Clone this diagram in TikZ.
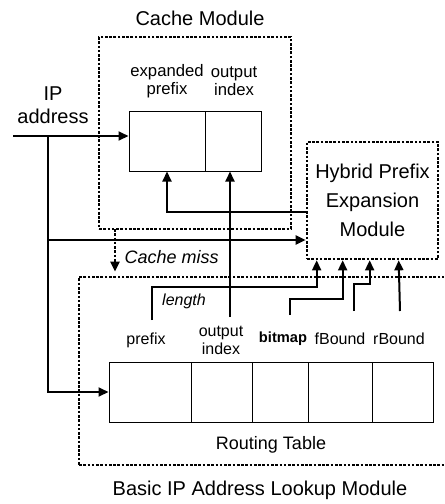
\documentclass[tikz,border=0pt]{standalone}
\usepackage{fontspec}
\setmainfont{Liberation Sans}
\usetikzlibrary{arrows.meta}

\begin{document}
\begin{tikzpicture}[x=0.75pt, y=-0.75pt,
  modbox/.style={draw, line width=2pt, dash pattern=on 2pt off 1.2pt, inner sep=0pt},
  cell/.style={draw, line width=0.75pt, minimum height=45pt, inner sep=0pt},
  arr/.style={line width=1.5pt, -{Triangle[length=7.5pt, width=6.75pt]}},
  miss/.style={line width=2pt, dash pattern=on 2pt off 1.2pt, -{Triangle[length=7.5pt, width=6.75pt]}, shorten >=3pt},
  big/.style={font=\fontsize{15}{17}\selectfont, align=center},
  clbl/.style={font=\fontsize{12.5}{13.5}\selectfont, align=center},
  rlbl/.style={font=\fontsize{12}{13.5}\selectfont, align=center}]
  \useasboundingbox (0,0) rectangle (444,504);
  \clip (0,0) rectangle (444,504);

  % module boxes
  \node[modbox, minimum width=144pt, minimum height=144pt] (cbox) at (195,133) {};
  \node[modbox, minimum width=98.25pt, minimum height=87.75pt,
        font=\fontsize{15}{22}\selectfont, align=center] (hpe) at (372.5,200.5)
        {Hybrid Prefix\\Expansion\\Module};
  \node[modbox, minimum width=285.75pt, minimum height=141pt] (bbox) at (269.5,371) {};

  \node[big] (cmT) at (200,18) {Cache Module};
  \node[big] (bmT) at (260,490) {Basic IP Address Lookup Module};
  \node[big] (ipT) at (53,105) {IP\\address};

  % cache table
  \node[cell, minimum width=57pt] (cexp) at (167,141) {};
  \node[cell, minimum width=42pt] (cout) at (233,141) {};
  \node[clbl] (lexp) at (167,81) {expanded\\prefix};
  \node[clbl] (lcout) at (234,81) {output\\index};

  % routing table
  \node[cell, minimum width=61.5pt] (rt1) at (150,392) {};
  \node[cell, minimum width=45.75pt] (rt2) at (221.5,392) {};
  \node[cell, minimum width=42pt] (rt3) at (280,392) {};
  \node[cell, minimum width=48pt] (rt4) at (340,392) {};
  \node[cell, minimum width=45.75pt] (rt5) at (402.5,392) {};
  \node[rlbl] (lpre) at (146,340) {prefix};
  \node[rlbl] (lout) at (221,340) {output\\index};
  \node[font=\fontsize{11}{12}\selectfont\bfseries] (lbit) at (283,339) {bitmap};
  \node[rlbl] (lfb) at (340,339) {fBound};
  \node[rlbl] (lrb) at (399,339) {rBound};
  \node[font=\fontsize{13.5}{15}\selectfont] (rtT) at (271,445) {Routing Table};

  % IP address input
  \coordinate (ipL) at (13,136);
  \coordinate (ipJ) at (48,136);
  \coordinate (ipH) at (48,240);
  \draw[arr] (ipL) -- (ipL -| cexp.west);
  \draw[arr] (ipJ) |- (rt1.west);
  \draw[arr] (ipH) -- (ipH -| hpe.west);

  % expansion result back to cache
  \coordinate (fb) at (307,212);
  \draw[arr] (fb) -| (cexp.south);

  % output index
  \coordinate (oiS) at (230,317);
  \draw[arr] (oiS) -- (oiS |- cout.south);

  % cache miss
  \coordinate (cm) at (115,229);
  \draw[miss] (cm) -- (cm |- bbox.north);
  \node[font=\fontsize{13.5}{15}\selectfont\itshape, anchor=west] (cmL) at (120,257) {Cache miss};

  % fields into the expansion module
  \path (hpe.south west) ++(11,0) coordinate (h1) ++(26,0) coordinate (h2)
        ++(27,0) coordinate (h3) ++(29,0) coordinate (h4);
  \coordinate (pS) at (152,320);
  \coordinate (bS) at (290,315);
  \coordinate (fS) at (354,311);
  \coordinate (rS) at (400,311);
  \draw[arr] (pS) |- (h1 |- 0,287) -- (h1);
  \draw[arr] (bS) |- (h2 |- 0,299) -- (h2);
  \draw[arr] (fS) |- (h3 |- 0,284) -- (h3);
  \draw[arr] (rS) -- (h4);
  \node[font=\fontsize{12}{13.5}\selectfont\itshape] (lenL) at (184,301) {length};
\end{tikzpicture}
\end{document}
